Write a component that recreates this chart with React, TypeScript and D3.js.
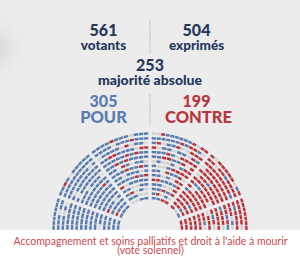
import * as d3 from 'd3';

// groupes, de gauche à droite dans l'hémicycle
const groups = ['LFI', 'GDR', 'Écolo', 'Soc', 'LIOT', 'EPR', 'Dem', 'Hor', 'DR', 'UDR', 'RN', 'NI'];
const seats = [71, 17, 38, 66, 23, 92, 36, 34, 49, 16, 123, 12];
const pour = [67, 12, 36, 59, 12, 60, 21, 18, 4, 1, 14, 1];
const contre = [0, 3, 0, 2, 6, 14, 7, 8, 36, 13, 104, 6];
const abst = [1, 1, 1, 4, 3, 16, 7, 7, 7, 1, 4, 5];

const headline = [
  { value: '561', label: 'votants' },
  { value: '504', label: 'exprimés' },
];
const majority = { value: '253', label: 'majorité absolue' };
const result = [
  { value: '305', label: 'POUR' },
  { value: '199', label: 'CONTRE' },
];
const title = ["Accompagnement et soins palliatifs et droit à l'aide à mourir", '(vote solennel)'];

const W = 300;
const H = 256;
const colors = { pour: '#5a7cb0', contre: '#b7353c', abst: '#d2d2d2', nv: '#dcdcdc' };
const navy = '#26385b';

type Seat = { r: number; a0: number; a1: number; mid: number; color?: string };

function largestRemainder(weights: number[], total: number) {
  const sum = d3.sum(weights);
  const raw = weights.map((w) => (w / sum) * total);
  const out = raw.map(Math.floor);
  let left = total - d3.sum(out);
  const order = d3.range(raw.length).sort((a, b) => (raw[b] - out[b]) - (raw[a] - out[a]));
  for (let i = 0; left > 0; i++, left--) out[order[i % order.length]]++;
  return out;
}

function buildSeats(): Seat[] {
  const nRings = 15;
  const radii = d3.range(nRings).map((i) => 32 + i * 4.6);
  const aisles = [20, 52, 90, 128, 160].map((d) => (d * Math.PI) / 180);
  const bounds = [0, ...aisles, Math.PI];
  const aisleW = 2.8;
  const total = d3.sum(seats);
  const perRing = largestRemainder(radii.map((r) => Math.PI * r - aisles.length * aisleW), total);
  const list: Seat[] = [];
  radii.forEach((r, i) => {
    const sectors = d3.range(bounds.length - 1).map((s) => {
      const start = bounds[s] + (s > 0 ? aisleW / 2 / r : 0);
      const end = bounds[s + 1] - (s < bounds.length - 2 ? aisleW / 2 / r : 0);
      return [start, end];
    });
    const counts = largestRemainder(sectors.map(([a, b]) => b - a), perRing[i]);
    const pad = 0.7 / r;
    sectors.forEach(([a, b], s) => {
      const step = (b - a) / counts[s];
      for (let j = 0; j < counts[s]; j++) {
        const a0 = a + j * step;
        list.push({ r, a0: a0 + pad / 2, a1: a0 + step - pad / 2, mid: a0 + step / 2 });
      }
    });
  });
  list.sort((p, q) => p.mid - q.mid || p.r - q.r);

  let k = 0;
  groups.forEach((_, g) => {
    const n = seats[g];
    const nv = n - pour[g] - contre[g] - abst[g];
    const slots: [number, string][] = [];
    const add = (count: number, c: string) => {
      for (let j = 0; j < count; j++) slots.push([((j + 0.5) * n) / count, c]);
    };
    add(pour[g], colors.pour);
    add(contre[g], colors.contre);
    add(abst[g], colors.abst);
    add(nv, colors.nv);
    slots.sort((a, b) => a[0] - b[0]);
    slots.forEach(([, c]) => {
      list[k++].color = c;
    });
  });
  return list;
}

export default function App() {
  const cx = 150;
  const cy = 230;
  const seatList = buildSeats();
  const arc = d3.arc<Seat>()
    .innerRadius((d) => d.r - 1.25)
    .outerRadius((d) => d.r + 1.25)
    .startAngle((d) => d.a0 - Math.PI / 2)
    .endAngle((d) => d.a1 - Math.PI / 2);

  const font = 'Lato, "Open Sans", sans-serif';
  const colX = [103.5, 196.5];

  return (
    <svg width={W} height={H} style={{ position: 'fixed', left: 0, top: 0, display: 'block' }} fontFamily={font}>
      <defs>
        <radialGradient id="shade" cx="0.5" cy="0.5" r="0.5">
          <stop offset="0%" stopColor="#d4d4d4" />
          <stop offset="100%" stopColor="#ececec" stopOpacity={0} />
        </radialGradient>
      </defs>
      <rect width={W} height={H} fill="#ececec" />
      <ellipse cx={-6} cy={48} rx={34} ry={42} fill="url(#shade)" />

      <line x1={150} x2={150} y1={20} y2={54} stroke="#9aa3b0" strokeWidth={1} strokeDasharray="1.2 1.2" />
      <line x1={150} x2={150} y1={94} y2={126} stroke="#9aa3b0" strokeWidth={1} strokeDasharray="1.2 1.2" />

      {headline.map((d, i) => (
        <g key={d.label} fill={navy} textAnchor="middle" fontWeight={900}>
          <text x={colX[i]} y={36} fontSize={16}>{d.value}</text>
          <text x={colX[i]} y={50} fontSize={13.5}>{d.label}</text>
        </g>
      ))}
      <g fill={navy} textAnchor="middle" fontWeight={900}>
        <text x={150} y={71} fontSize={16}>{majority.value}</text>
        <text x={150} y={85} fontSize={14}>{majority.label}</text>
      </g>
      {result.map((d, i) => (
        <g key={d.label} fill={i === 0 ? colors.pour : colors.contre} textAnchor="middle" fontWeight={900}>
          <text x={colX[i]} y={106.5} fontSize={16}>{d.value}</text>
          <text x={colX[i] + (i === 1 ? 2 : 0)} y={123} fontSize={16.5}>{d.label}</text>
        </g>
      ))}

      <g transform={`translate(${cx},${cy})`}>
        {seatList.map((s, i) => (
          <path key={i} d={arc(s) ?? ''} fill={s.color} />
        ))}
      </g>

      <rect x={0} y={230} width={W} height={H - 230} fill="#ffffff" />
      <g fill="#c94a50" textAnchor="middle" fontSize={10.5}>
        <text x={150.5} y={244.5}>{title[0]}</text>
        <text x={150.5} y={254}>{title[1]}</text>
      </g>
    </svg>
  );
}
